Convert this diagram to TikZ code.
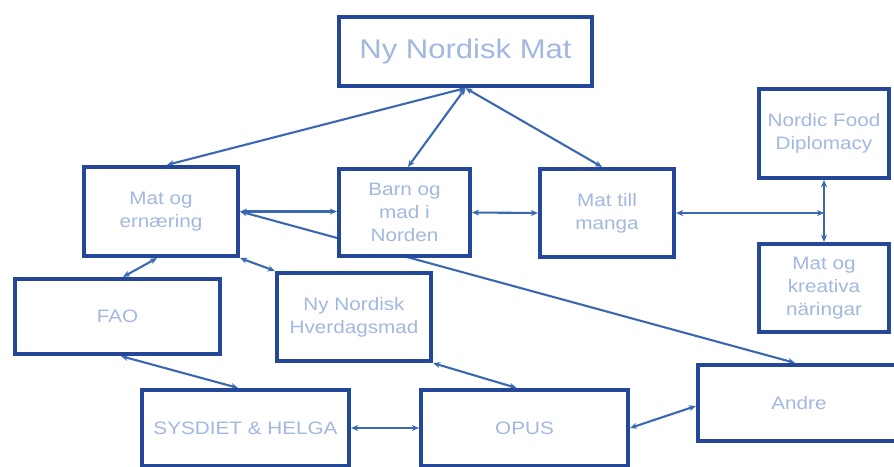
\documentclass[tikz,border=0pt]{standalone}
\usepackage{fontspec}
\setmainfont{Liberation Sans}[FakeStretch=1.15]
\usetikzlibrary{arrows.meta,backgrounds}
\definecolor{boxblue}{HTML}{24479A}
\definecolor{txtblue}{HTML}{A3B8E0}
\definecolor{linkblue}{HTML}{3A68B2}
\tikzset{
  box/.style={draw=boxblue, line width=4.2pt, fill=white, text=txtblue,
    align=center, inner sep=0pt, font=\fontsize{18}{23}\selectfont},
  link/.style={<->, >={Stealth[length=7pt,width=6pt]}, draw=linkblue, line width=2.1pt}
}
\begin{document}
\begin{tikzpicture}[x=1pt,y=-1pt]
     \useasboundingbox (0,0) rectangle (894,466);
     %%%%%%%%%%%%%%%%%%%%%%%%%%%%%%%%%%%%%%%%%%%%%%
     %%% Top level
     %%%%%%%%%%%%%%%%%%%%%%%%%%%%%%%%%%%%%%%%%%%%%%
     \node[box, minimum width=253, minimum height=69, font=\fontsize{27}{30}\selectfont]
          (nnm) at (465.5,51.5) {Ny Nordisk Mat};
     % second row of projects
     \node[box, minimum width=154, minimum height=89] (moe) at (161,211.5) {Mat og\\ernæring};
     \node[box, minimum width=131, minimum height=87] (barn) at (404.5,212.5) {Barn og\\mad i\\Norden};
     \node[box, minimum width=134, minimum height=88] (mtm) at (607,213) {Mat till\\manga};
     % right column
     \node[box, minimum width=130, minimum height=89] (nfd) at (824,133.5) {Nordic Food\\Diplomacy};
     \node[box, minimum width=130, minimum height=88] (mok) at (824,288) {Mat og\\kreativa\\näringar};
     % lower rows
     \node[box, minimum width=205, minimum height=75] (fao) at (117.5,316.5) {FAO};
     \node[box, minimum width=154, minimum height=88] (nnh) at (354,317) {Ny Nordisk\\Hverdagsmad};
     \node[box, minimum width=202, minimum height=76] (andre) at (799,403) {Andre};
     \node[box, minimum width=207, minimum height=76] (sys) at (245.5,428) {SYSDIET \& HELGA};
     \node[box, minimum width=207, minimum height=76] (opus) at (524.5,428) {OPUS};
     \coordinate (jn) at (nfd.south |- mtm.east);

     %%%%%%%%%%%%%%%%%%%%%%%%%%%%%%%%%%%%%%%%%%%%%%
     %%% Links, behind the boxes
     %%%%%%%%%%%%%%%%%%%%%%%%%%%%%%%%%%%%%%%%%%%%%%
     \begin{pgfonlayer}{background}
     \draw[link] (nnm.south) -- ([xshift=6pt]moe.north);
     \draw[link] (nnm.south) -- ([xshift=3.5pt]barn.north);
     \draw[link] (nnm.south) -- ([xshift=-5pt]mtm.north);
     \foreach \a/\b in {barn.east/mtm.west, mtm.east/jn, nfd.south/mok.north,
                        sys.east/opus.west, moe.south east/nnh.north west}
          \draw[link] (\a) -- (\b);
     \draw[link] (moe.east) -- (moe.east -| barn.west);
     % long link to Andre, runs under Barn og mad i Norden
     \draw[link] (moe.east) -- ([xshift=-4pt]andre.north);
     \draw[link] ([xshift=-4pt]moe.south) -- ([xshift=5.5pt]fao.north);
     \draw[link] (nnh.south east) -- ([xshift=-8pt]opus.north);
     \draw[link] ([xshift=3.5pt]fao.south) -- ([xshift=-7.5pt]sys.north);
     \draw[link] (opus.east) -- ([yshift=-3pt]andre.west);
     \end{pgfonlayer}
\end{tikzpicture}
\end{document}
